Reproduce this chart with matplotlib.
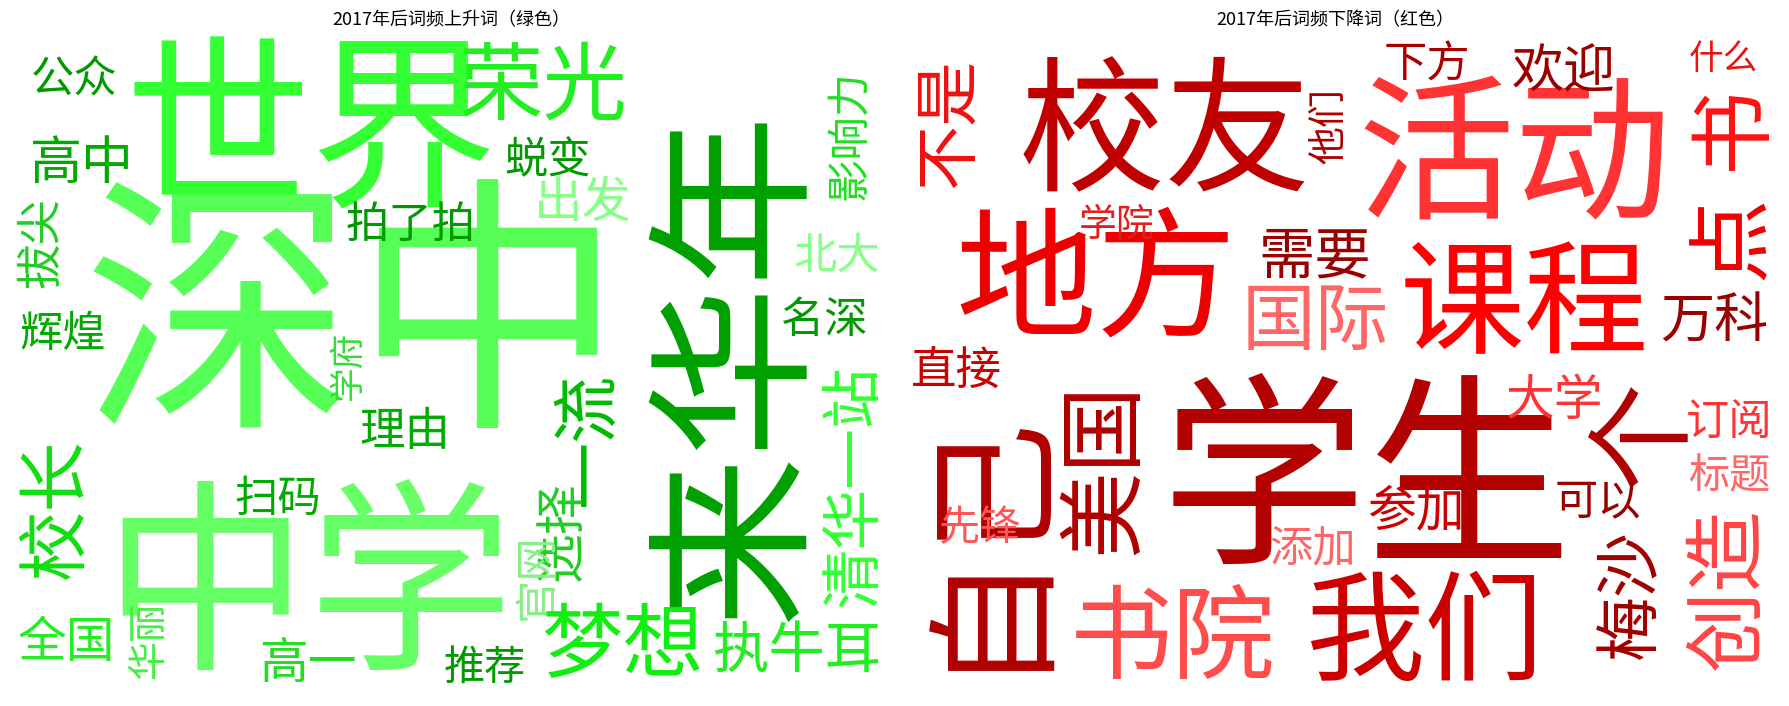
import matplotlib
matplotlib.use("Agg")
import matplotlib.pyplot as plt

plt.rcParams['font.family'] = ['Noto Sans CJK SC', 'DejaVu Sans']

titles = ["2017年后词频上升词（绿色）", "2017年后词频下降词（红色）"]

# Left cloud (rising words)
up_words = ["深中", "世界", "中学", "来华年", "荣光", "公众", "高中", "拔尖", "辉煌", "校长",
            "全国", "华丽", "蜕变", "出发", "拍了拍", "学府", "理由", "扫码", "一流", "选择",
            "官网", "高一", "推荐", "梦想", "执牛耳", "清华一站", "名深", "北大", "影响力"]
up_size = [250, 172, 190, 158, 78, 40, 48, 42, 40, 65,
           45, 36, 40, 45, 40, 32, 42, 40, 62, 46,
           40, 45, 38, 75, 52, 56, 40, 40, 40]
up_color = ["#55ff55", "#33ff33", "#66ff66", "#00a000", "#22ee22", "#009900", "#00aa00", "#22cc22",
            "#00aa00", "#11dd11", "#22ee22", "#44ee44", "#009900", "#88ff88", "#009900", "#33dd33",
            "#00aa00", "#00aa00", "#00bb00", "#22cc22", "#88ee88", "#22dd22", "#009900", "#11ee11",
            "#22ee22", "#33ff33", "#009900", "#88ff88", "#22dd22"]
up_rot = [0, 0, 0, 90, 0, 0, 0, 90, 0, 90,
          0, 90, 0, 0, 0, 90, 0, 0, 90, 90,
          90, 0, 0, 0, 0, 90, 0, 0, 90]
up_xy = [(310, 272), (272, 110), (270, 508), (637, 320), (475, 72), (65, 68), (72, 140), (33, 212),
         (55, 290), (45, 445), (58, 560), (128, 560), (480, 138), (510, 175), (360, 195), (303, 320),
         (355, 375), (243, 435), (512, 385), (490, 465), (468, 505), (270, 578), (425, 582),
         (545, 562), (698, 567), (745, 425), (722, 278), (733, 222), (742, 118)]

# Right cloud (falling words)
down_words = ["学生", "活动", "校友", "地方", "课程", "自己", "美国", "书院", "我们", "国际",
              "需要", "不是", "他们", "学院", "下方", "欢迎", "什么", "书", "点", "万科",
              "直接", "大学", "订阅", "标题", "个", "可以", "先锋", "参加", "添加", "梅沙", "创造"]
down_size = [190, 145, 135, 130, 115, 125, 80, 95, 110, 68,
             52, 60, 35, 35, 40, 48, 32, 78, 78, 50,
             42, 45, 40, 38, 100, 40, 38, 45, 40, 60, 75]
down_color = ["#b30000", "#ff3333", "#c00000", "#ee0000", "#ff0000", "#b00000", "#b00000", "#ff4d4d",
              "#cc0000", "#ff6666", "#990000", "#ee1111", "#aa0000", "#e02020", "#aa0000", "#990000",
              "#ee1111", "#ff1111", "#ee0000", "#990000", "#cc0000", "#ff3333", "#ff3333", "#ff6666",
              "#b00000", "#990000", "#ff5555", "#cc0000", "#ff6666", "#a00000", "#ff4444"]
down_rot = [0, 0, 0, 0, 0, 90, 90, 0, 0, 0,
            0, 90, 90, 0, 0, 0, 0, 90, 90, 0,
            0, 0, 0, 0, 90, 0, 0, 0, 0, 90, 90]
down_xy = [(1197, 415), (1327, 132), (1020, 112), (960, 240), (1335, 262), (853, 468), (963, 410),
           (1027, 555), (1248, 550), (1152, 278), (1152, 222), (828, 108), (1162, 110), (978, 195),
           (1250, 55), (1370, 60), (1510, 50), (1513, 112), (1513, 208), (1502, 278), (838, 322),
           (1362, 348), (1515, 367), (1515, 415), (1435, 380), (1400, 438), (858, 460), (1240, 445),
           (1150, 478), (1425, 520), (1510, 515)]

fig = plt.figure(figsize=(17.9, 7.06), dpi=100)
ax = fig.add_axes([0, 0, 1, 1])
ax.set_xlim(0, 1568)
ax.set_ylim(618, 0)
ax.axis('off')

K = 0.78   # display-pixel glyph height -> points
OFF = 0.07  # glyph sits above the bbox centre

def draw(words, sizes, colors, rots, xy):
    for w, s, c, r, (x, y) in zip(words, sizes, colors, rots, xy):
        if r == 0:
            x2, y2 = x, y + OFF * s
        else:
            x2, y2 = x + OFF * s, y
        ax.text(x2, y2, w, fontsize=s * K, color=c, rotation=r,
                ha='center', va='center', rotation_mode='anchor')

draw(up_words, up_size, up_color, up_rot, up_xy)
draw(down_words, down_size, down_color, down_rot, down_xy)

ax.text(395, 18, titles[0], fontsize=13, ha='center', va='center', color='black')
ax.text(1170, 18, titles[1], fontsize=13, ha='center', va='center', color='black')

fig.savefig("out.png", dpi=100)
